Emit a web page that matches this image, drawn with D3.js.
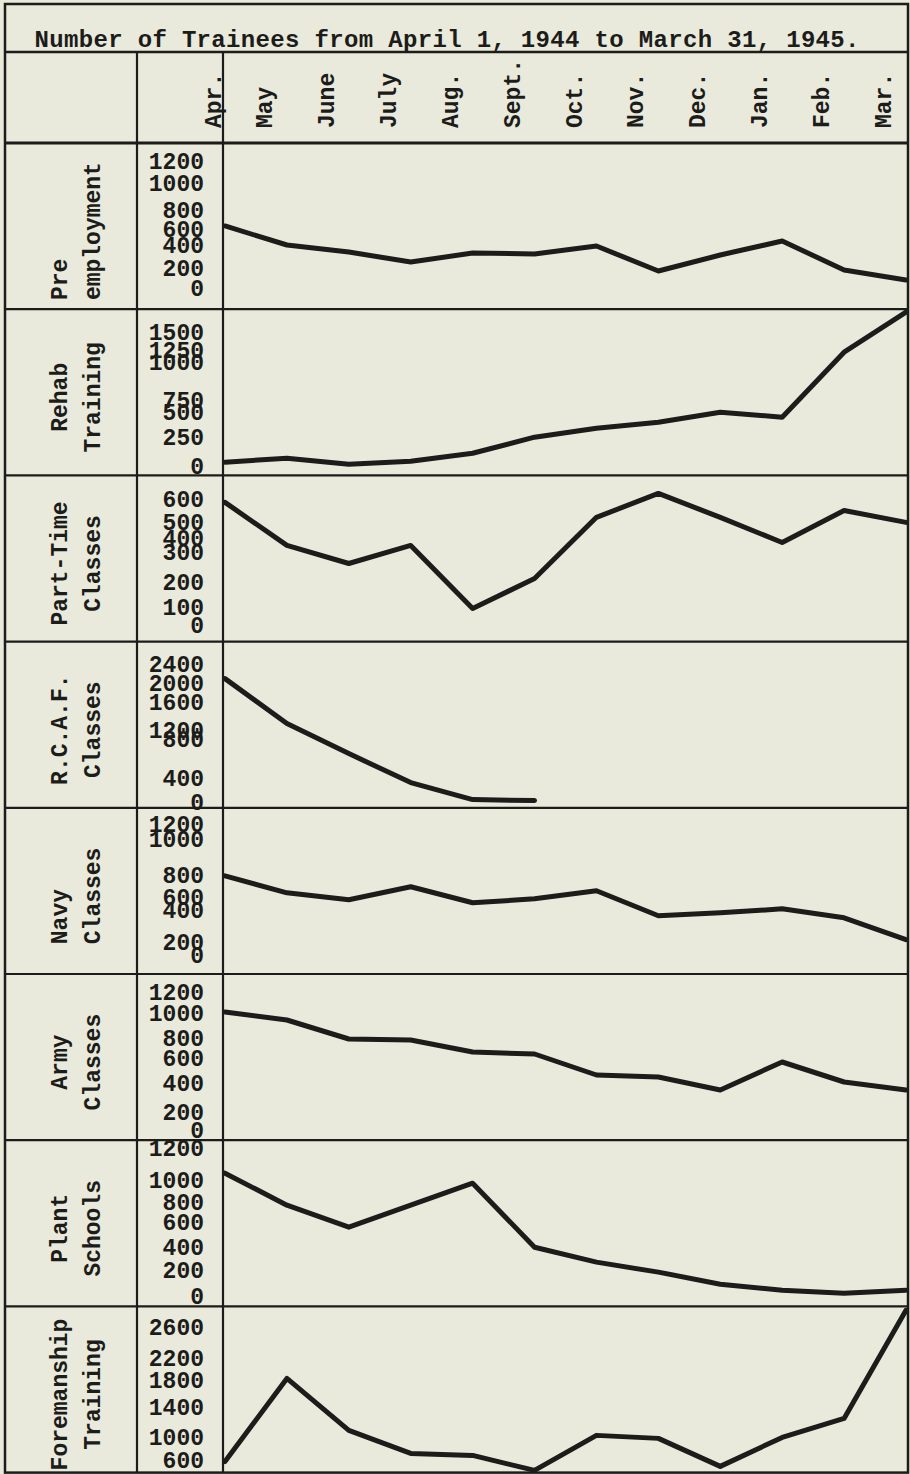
<!DOCTYPE html>
<html>
<head>
    <title>Number of Trainees 1944-1945</title>
</head>
<meta charset="utf-8">
<style type="text/css">
    html, body {
        margin: 0;
        background: #e9eadb;
    }

    svg text {
        font-family: "Liberation Mono", "DejaVu Sans Mono", monospace;
        font-weight: bold;
        fill: #1c1c1a;
    }
</style>

<body>
<svg id="wrapper" width="910" height="1474"></svg>

<script src="https://cdn.jsdelivr.net/npm/d3@7"></script>

<script>
    "use strict";

    // Data
    const title = "Number of Trainees from April 1, 1944 to March 31, 1945.";
    const months = ["Apr.", "May", "June", "July", "Aug.", "Sept.", "Oct.", "Nov.", "Dec.", "Jan.", "Feb.", "Mar."];
    const categories = [
        ["Pre", "employment"],
        ["Rehab", "Training"],
        ["Part-Time", "Classes"],
        ["R.C.A.F.", "Classes"],
        ["Navy", "Classes"],
        ["Army", "Classes"],
        ["Plant", "Schools"],
        ["Foremanship", "Training"]
    ];

    const preEmployment = [632, 400, 339, 252, 330, 322, 391, 170, 313, 450, 180, 80];
    const rehabTraining = [34, 69, 17, 43, 112, 250, 340, 400, 500, 450, 1208, 1778];
    const partTimeClasses = [587, 350, 263, 350, 94, 213, 522, 626, 522, 371, 552, 500];
    const rcafClasses = [2084, 1286, 646, 317, 33, 17, null, null, null, null, null, null];
    const navyClasses = [790, 636, 554, 691, 508, 569, 655, 363, 381, 415, 350, 213];
    const armyClasses = [1010, 944, 790, 780, 660, 640, 464, 448, 352, 568, 408, 352];
    const plantSchools = [1044, 770, 560, 770, 973, 400, 270, 185, 92, 46, 23, 46];
    const foremanshipTraining = [580, 1836, 1093, 722, 687, 426, 1027, 983, 496, 1000, 1253, 2820];

    const series = [preEmployment, rehabTraining, partTimeClasses, rcafClasses,
        navyClasses, armyClasses, plantSchools, foremanshipTraining];

    // tick values of each panel's typed scale
    const tickValues = [
        [0, 200, 400, 600, 800, 1000, 1200],
        [0, 250, 500, 750, 1000, 1250, 1500],
        [0, 100, 200, 300, 400, 500, 600],
        [0, 400, 800, 1200, 1600, 2000, 2400],
        [0, 200, 400, 600, 800, 1000, 1200],
        [0, 200, 400, 600, 800, 1000, 1200],
        [0, 200, 400, 600, 800, 1000, 1200],
        [600, 1000, 1400, 1800, 2200, 2600]
    ];

    // layout: where the typist put each tick (px below the panel top)
    const tickOffsets = [
        [145, 125, 102, 86, 67, 40, 18],
        [157, 128, 103, 91, 53, 41, 23],
        [150, 132, 107, 77, 63, 47, 24],
        [160, 136, 97, 88, 60, 41, 22],
        [147, 134, 102, 89, 67, 31, 16],
        [156, 138, 109, 84, 64, 39, 18],
        [156, 130, 107, 82, 62, 40, 8],
        [154, 131, 101, 74, 52, 21]
    ];
    const labelAlign = ["start", "middle", "middle", "middle", "start", "middle", "middle", "middle"];

    const ink = "#1c1c1a",
        frameLeft = 5, frameRight = 908, frameTop = 4,
        titleBottom = 52, headerBottom = 143,
        col1 = 137, col2 = 223,
        panelH = 166.2,
        fontSize = 23,
        charW = fontSize * 0.6;

    const svg = d3.select("svg");

    const x = d3.scalePoint()
        .domain(months)
        .range([col2 + 2, frameRight - 2]);

    // grid of the table
    const frameBottom = headerBottom + panelH * categories.length;
    const grid = svg.append("g").attr("stroke", ink).attr("fill", "none");
    grid.append("rect")
        .attr("x", frameLeft).attr("y", frameTop)
        .attr("width", frameRight - frameLeft).attr("height", frameBottom - frameTop)
        .attr("stroke-width", 2.5);
    grid.append("line")
        .attr("x1", frameLeft).attr("x2", frameRight)
        .attr("y1", titleBottom).attr("y2", titleBottom)
        .attr("stroke-width", 2.5);
    grid.selectAll(".hline")
        .data(d3.range(categories.length))
        .join("line")
        .attr("class", "hline")
        .attr("x1", frameLeft).attr("x2", frameRight)
        .attr("y1", i => headerBottom + i * panelH)
        .attr("y2", i => headerBottom + i * panelH)
        .attr("stroke-width", i => i === 0 ? 3.2 : 2.2);
    grid.selectAll(".vline")
        .data([col1, col2])
        .join("line")
        .attr("class", "vline")
        .attr("x1", d => d).attr("x2", d => d)
        .attr("y1", titleBottom).attr("y2", frameBottom)
        .attr("stroke-width", 2.2);

    // title
    svg.append("text")
        .attr("x", 447)
        .attr("y", 47)
        .attr("text-anchor", "middle")
        .attr("font-size", 24)
        .attr("textLength", 825)
        .text(title);

    // month labels, typed sideways
    svg.append("g").selectAll("text")
        .data(months)
        .join("text")
        .attr("transform", d => "translate(" + Math.max(x(d) - 23, col2 - 10) + ",128) rotate(-90)")
        .attr("dy", "0.35em")
        .attr("font-size", fontSize)
        .text(d => d);

    // panels
    categories.forEach(function (cat, i) {
        const py = headerBottom + i * panelH;
        const g = svg.append("g");

        const y = d3.scaleLinear()
            .domain(tickValues[i])
            .range(tickOffsets[i].map(o => py + o));

        // row name
        const cy = py + panelH / 2 + 5;
        const maxLen = d3.max(cat, s => s.length) * charW;
        cat.forEach(function (line, j) {
            const start = labelAlign[i] === "start";
            g.append("text")
                .attr("transform", "translate(" + (67 + j * 33) + "," +
                    (start ? cy + maxLen / 2 : cy) + ") rotate(-90)")
                .attr("text-anchor", start ? "start" : "middle")
                .attr("font-size", fontSize)
                .text(line);
        });

        // tick labels
        g.selectAll(".tick")
            .data(tickValues[i])
            .join("text")
            .attr("class", "tick")
            .attr("x", 204)
            .attr("y", d => y(d))
            .attr("dy", "0.35em")
            .attr("text-anchor", "end")
            .attr("font-size", fontSize)
            .text(d => d);

        // the line
        const line = d3.line()
            .defined(d => d != null)
            .x((d, k) => x(months[k]))
            .y(d => y(d));

        g.append("path")
            .datum(series[i])
            .attr("fill", "none")
            .attr("stroke", ink)
            .attr("stroke-width", 5)
            .attr("stroke-linejoin", "round")
            .attr("stroke-linecap", "round")
            .attr("d", line);
    });
</script>
</body>
</html>
